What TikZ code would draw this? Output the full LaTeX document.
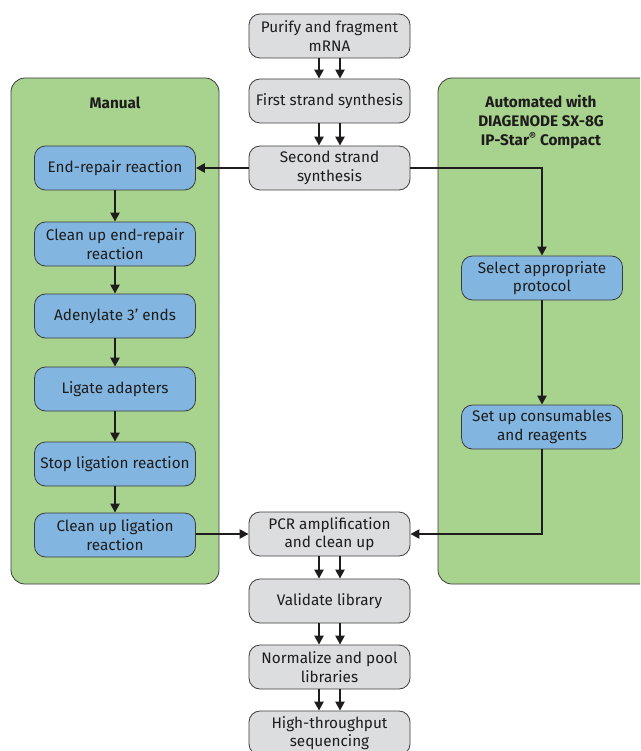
\documentclass[tikz,border=0pt]{standalone}
\usepackage{fontspec}
\setmainfont{Fira Sans}
\usetikzlibrary{arrows.meta}
\definecolor{stepgray}{RGB}{220,221,222}
\definecolor{panelgreen}{RGB}{168,211,143}
\definecolor{stepblue}{RGB}{130,182,224}
\definecolor{edgegray}{RGB}{60,60,60}
\definecolor{linkblack}{RGB}{30,28,28}
\tikzset{
	graybox/.style={draw=edgegray, fill=stepgray, rounded corners=11pt, minimum width=161pt, minimum height=44pt, inner sep=0pt, align=center, text=linkblack, font=\fontsize{15.3}{18.5}\selectfont, line width=0.8pt},
	bluebox/.style={graybox, fill=stepblue},
	panel/.style={draw=edgegray, fill=panelgreen, rounded corners=14pt, line width=0.8pt},
	conn/.style={draw=linkblack, line width=2.6pt, -{Triangle[length=9pt,width=9pt]}},
	paneltitle/.style={align=center, text=linkblack, font=\fontsize{15.3}{19}\selectfont\bfseries},
}
\begin{document}
\begin{tikzpicture}[x=1pt,y=-1pt]
	\useasboundingbox (0,0) rectangle (640,751);
	\clip (0,0) rectangle (640,751);
	%panels
	\draw[panel] (11,78) rectangle (219,584);
	\draw[panel] (438,78) rectangle (662,584);
	\node[paneltitle] (manual) at (115,103) {Manual};
	\node[paneltitle] (auto) at (541,122) {Automated with\\DIAGENODE SX-8G\\IP-Star\textsuperscript{®} Compact};
	
	%main column
	\node[graybox] (purify) at (329.5,36) {Purify and fragment\\mRNA};
	\node[graybox] (first) at (329.5,101) {First strand synthesis};
	\node[graybox] (second) at (329.5,168) {Second strand\\synthesis};
	\node[graybox] (pcr) at (329.5,534) {PCR amplification\\and clean up};
	\node[graybox] (validate) at (329.5,601) {Validate library};
	\node[graybox] (normalize) at (329.5,667) {Normalize and pool\\libraries};
	\node[graybox] (hts) at (329.5,733) {High-throughput\\sequencing};
	
	%manual steps
	\node[bluebox] (endrep) at (115,168) {End-repair reaction};
	\node[bluebox] (cleanrep) at (115,244) {Clean up end-repair\\reaction};
	\node[bluebox] (adenyl) at (115,316) {Adenylate 3' ends};
	\node[bluebox] (ligate) at (115,389) {Ligate adapters};
	\node[bluebox] (stoplig) at (115,464) {Stop ligation reaction};
	\node[bluebox] (cleanlig) at (115,535) {Clean up ligation\\reaction};
	
	%automated steps
	\node[bluebox] (select) at (542,278) {Select appropriate\\protocol};
	\node[bluebox] (setup) at (542,427) {Set up consumables\\and reagents};
	
	%double arrows
	\foreach \a/\b in {purify/first, first/second, pcr/validate, validate/normalize, normalize/hts}{
		\draw[conn] ([xshift=-10.5pt]\a.south) -- ([xshift=-10.5pt]\b.north);
		\draw[conn] ([xshift=10.5pt]\a.south) -- ([xshift=10.5pt]\b.north);
	}
	
	%manual chain
	\foreach \a/\b in {endrep/cleanrep, cleanrep/adenyl, adenyl/ligate, ligate/stoplig, stoplig/cleanlig}{
		\draw[conn] (\a) -- (\b);
	}
	
	\draw[conn] (second.west) -- (endrep.east);
	\draw[conn] (second.east) -| (select.north);
	\draw[conn] (select) -- (setup);
	\draw[conn] (setup.south) |- (pcr.east);
	\draw[conn] (cleanlig.east |- pcr.west) -- (pcr.west);
\end{tikzpicture}
\end{document}
